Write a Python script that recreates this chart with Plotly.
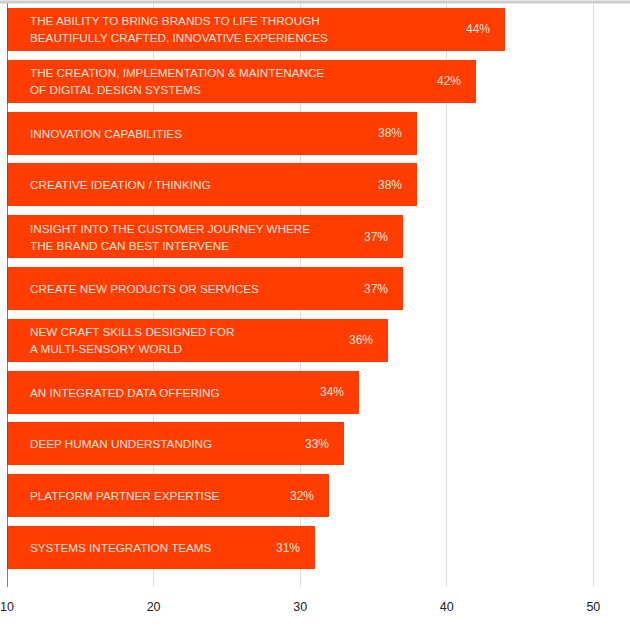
import plotly.graph_objects as go

categories = [
    "THE ABILITY TO BRING BRANDS TO LIFE THROUGH<br>BEAUTIFULLY CRAFTED, INNOVATIVE EXPERIENCES",
    "THE CREATION, IMPLEMENTATION & MAINTENANCE<br>OF DIGITAL DESIGN SYSTEMS",
    "INNOVATION CAPABILITIES",
    "CREATIVE IDEATION / THINKING",
    "INSIGHT INTO THE CUSTOMER JOURNEY WHERE<br>THE BRAND CAN BEST INTERVENE",
    "CREATE NEW PRODUCTS OR SERVICES",
    "NEW CRAFT SKILLS DESIGNED FOR<br>A MULTI-SENSORY WORLD",
    "AN INTEGRATED DATA OFFERING",
    "DEEP HUMAN UNDERSTANDING",
    "PLATFORM PARTNER EXPERTISE",
    "SYSTEMS INTEGRATION TEAMS",
]
values = [44, 42, 38, 38, 37, 37, 36, 34, 33, 32, 31]
x_ticks = [10, 20, 30, 40, 50]

BAR = "#ff3d00"
TXT = "rgba(255,255,255,0.88)"
FONT = "Liberation Sans, Arial, sans-serif"

idx = list(range(len(categories)))

fig = go.Figure(go.Bar(
    x=values, y=idx, orientation="h",
    marker=dict(color=BAR, line=dict(width=0)),
    width=0.83, hoverinfo="skip",
))

annotations = []
for i, (c, v) in enumerate(zip(categories, values)):
    lines = c.split("<br>")
    n = len(lines)
    for k, line in enumerate(lines):
        shift = (n - 1) / 2 * 17 - k * 17
        annotations.append(dict(
            x=10, y=i, xref="x", yref="y", text=line, showarrow=False,
            xanchor="left", yanchor="middle", align="left", xshift=21, yshift=shift,
            font=dict(family=FONT, size=11.7, color=TXT),
        ))
    annotations.append(dict(
        x=v, y=i, xref="x", yref="y", text=f"{v}%", showarrow=False,
        xanchor="right", yanchor="middle", xshift=-13,
        font=dict(family=FONT, size=12, color=TXT),
    ))

fig.update_layout(
    width=630, height=639,
    margin=dict(l=7, r=0, t=2, b=52),
    paper_bgcolor="white", plot_bgcolor="white",
    showlegend=False,
    bargap=0,
    annotations=annotations,
    xaxis=dict(
        range=[10, 52.5], tickvals=x_ticks, ticktext=[str(t) for t in x_ticks],
        showgrid=True, gridcolor="#dcdcdc", gridwidth=1, zeroline=False,
        showline=False, ticks="", ticklen=0, ticklabelstandoff=10,
        tickfont=dict(family=FONT, size=12.5, color="#222222"),
        fixedrange=True,
    ),
    yaxis=dict(
        range=[10.76, -0.53], showticklabels=False, showgrid=False,
        zeroline=False, showline=False, fixedrange=True,
    ),
    shapes=[
        dict(type="line", xref="x", yref="paper", x0=10, x1=10, y0=0, y1=1,
             line=dict(color="#555555", width=1.5)),
        dict(type="line", xref="paper", yref="paper", x0=-0.02, x1=1.02, y0=1.0, y1=1.0,
             line=dict(color="#cccccc", width=3)),
    ],
)

fig.write_html(
    "out.html",
    config={"displayModeBar": False},
    post_script="document.body.style.margin='0';document.body.style.padding='0';",
)
